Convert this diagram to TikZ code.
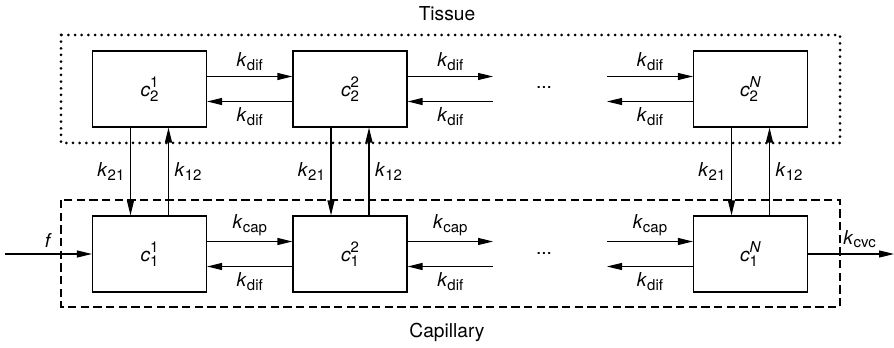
\documentclass[tikz,border=0pt]{standalone}
\usepackage{fontspec}
\setmainfont{TeX Gyre Heros}
\usepackage{amsmath}
\usepackage{tikz}
\usetikzlibrary{
    arrows.meta,
    positioning
}
\tikzstyle{cell} = [
    draw,
    line width=0.7pt,
    minimum width=68.4pt,
    minimum height=45.6pt,
    inner sep=0pt
]
\tikzstyle{flow} = [
    -{Triangle[length=9pt,width=4.2pt]},
    line width=0.7pt
]
\newcommand{\kr}[1]{\textit{k}\raisebox{-0.35ex}{\fontsize{9}{10}\selectfont #1}}
\newcommand{\conc}[2]{\textit{c}\makebox[0pt][l]{\raisebox{-0.45ex}{\fontsize{9}{10}\selectfont #1}}\raisebox{0.9ex}{\fontsize{9}{10}\selectfont #2}}

\begin{document}
\begin{tikzpicture}[x=0.6pt, y=-0.6pt, font=\fontsize{11.5}{14}\selectfont]
        \useasboundingbox (0,0) rectangle (894,348);

        % Compartments
        \draw[line width=1.8pt, dash pattern=on 0pt off 4pt, line cap=round] (61,35) rectangle (840,143);
        \draw[line width=0.7pt, dash pattern=on 5pt off 2.6pt] (61,200) rectangle (840,307);
        \node (tissue) at (447,14) {Tissue};
        \node (capillary) at (447,332) {Capillary};

        % Tissue cells
        \node[cell] (t1) at (149.5,89) {\conc{2}{1}};
        \node[cell] (t2) at (350,89) {\conc{2}{2}};
        \node[cell] (tN) at (750.5,89) {\conc{2}{\textit{N}}};

        % Capillary cells
        \node[cell] (b1) at (149.5,254) {\conc{1}{1}};
        \node[cell] (b2) at (350,254) {\conc{1}{2}};
        \node[cell] (bN) at (750.5,254) {\conc{1}{\textit{N}}};

        % Open ends
        \coordinate (tout) at (493,89);
        \coordinate (tin) at (607,89);
        \coordinate (bout) at (493,254);
        \coordinate (bin) at (607,254);
        \coordinate (fin) at (5,254);
        \coordinate (cvc) at (894,254);
        \node[anchor=base] (tdots) at (544,89) {...};
        \node[anchor=base] (bdots) at (544,254) {...};

        % Tissue diffusion
        \draw[flow] ([yshift=7.5pt]t1.east) -- ([yshift=7.5pt]t2.west) node[midway,above] {\kr{dif}};
        \draw[flow] ([yshift=-7.5pt]t2.west) -- ([yshift=-7.5pt]t1.east) node[midway,below] {\kr{dif}};
        \draw[flow] ([yshift=7.5pt]t2.east) -- ([yshift=7.5pt]tout) node[midway,above] {\kr{dif}};
        \draw[flow] ([yshift=-7.5pt]tout) -- ([yshift=-7.5pt]t2.east) node[midway,below] {\kr{dif}};
        \draw[flow] ([yshift=7.5pt]tin) -- ([yshift=7.5pt]tN.west) node[midway,above] {\kr{dif}};
        \draw[flow] ([yshift=-7.5pt]tN.west) -- ([yshift=-7.5pt]tin) node[midway,below] {\kr{dif}};

        % Capillary flow
        \draw[flow] (fin) -- (b1.west) node[midway,above] {\textit{f}};
        \draw[flow] ([yshift=7.5pt]b1.east) -- ([yshift=7.5pt]b2.west) node[midway,above] {\kr{cap}};
        \draw[flow] ([yshift=-7.5pt]b2.west) -- ([yshift=-7.5pt]b1.east) node[midway,below] {\kr{dif}};
        \draw[flow] ([yshift=7.5pt]b2.east) -- ([yshift=7.5pt]bout) node[midway,above] {\kr{cap}};
        \draw[flow] ([yshift=-7.5pt]bout) -- ([yshift=-7.5pt]b2.east) node[midway,below] {\kr{dif}};
        \draw[flow] ([yshift=7.5pt]bin) -- ([yshift=7.5pt]bN.west) node[midway,above] {\kr{cap}};
        \draw[flow] ([yshift=-7.5pt]bN.west) -- ([yshift=-7.5pt]bin) node[midway,below] {\kr{dif}};
        \draw[flow] (bN.east) -- (cvc) node[pos=0.6,above] {\kr{cvc}};

        % Exchange
        \draw[flow] ([xshift=-11.4pt]t1.south) -- ([xshift=-11.4pt]b1.north) node[midway,left] {\kr{21}};
        \draw[flow] ([xshift=11.4pt]b1.north) -- ([xshift=11.4pt]t1.south) node[midway,right] {\kr{12}};
        \draw[flow] ([xshift=-11.4pt]t2.south) -- ([xshift=-11.4pt]b2.north) node[midway,left] {\kr{21}};
        \draw[flow] ([xshift=11.4pt]b2.north) -- ([xshift=11.4pt]t2.south) node[midway,right] {\kr{12}};
        \draw[flow] ([xshift=-11.4pt]tN.south) -- ([xshift=-11.4pt]bN.north) node[midway,left] {\kr{21}};
        \draw[flow] ([xshift=11.4pt]bN.north) -- ([xshift=11.4pt]tN.south) node[midway,right] {\kr{12}};
    \end{tikzpicture}
\end{document}
